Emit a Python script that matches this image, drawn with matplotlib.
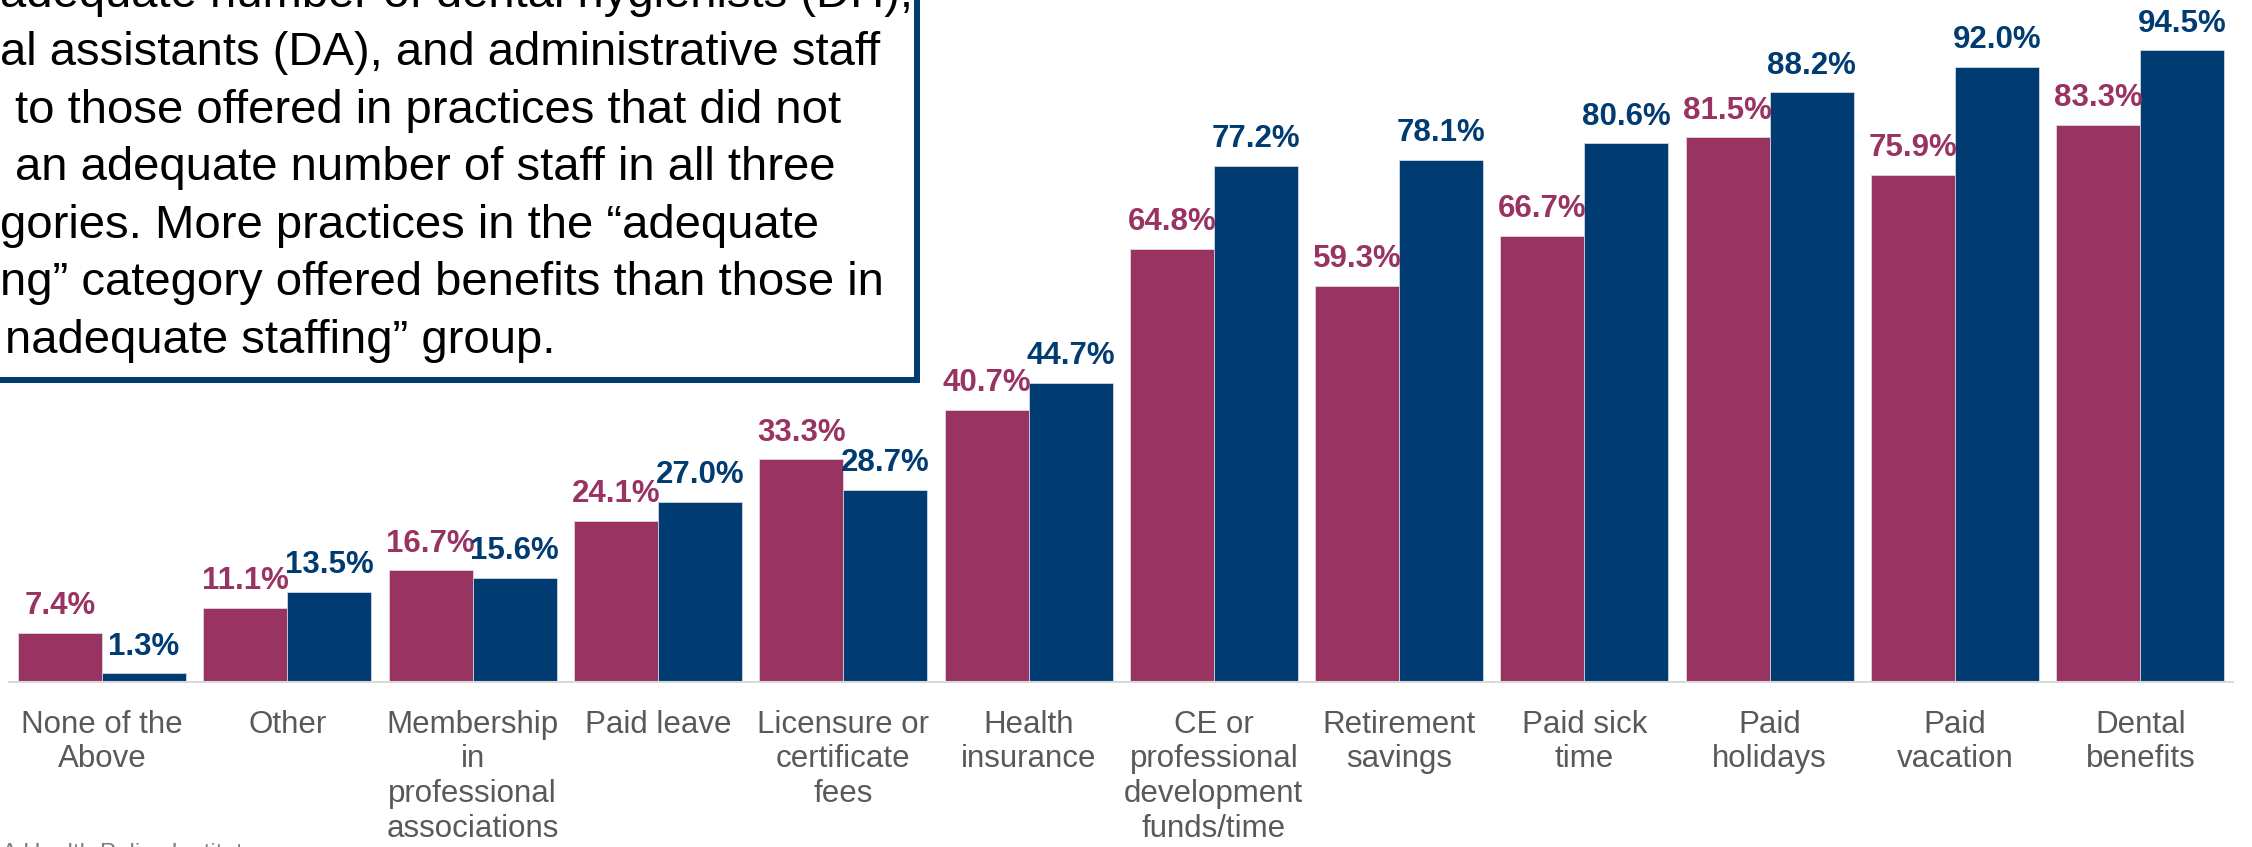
import numpy as np
import matplotlib
matplotlib.use('Agg')
import matplotlib.pyplot as plt
from matplotlib.patches import Rectangle

plt.rcParams['font.family'] = ['Liberation Sans', 'DejaVu Sans']

# data
categories = ['None of the\nAbove', 'Other', 'Membership\nin\nprofessional\nassociations',
              'Paid leave', 'Licensure or\ncertificate\nfees', 'Health\ninsurance',
              'CE or\nprofessional\ndevelopment\nfunds/time', 'Retirement\nsavings',
              'Paid sick\ntime', 'Paid\nholidays', 'Paid\nvacation', 'Dental\nbenefits']
inadequate = [7.4, 11.1, 16.7, 24.1, 33.3, 40.7, 64.8, 59.3, 66.7, 81.5, 75.9, 83.3]
adequate = [1.3, 13.5, 15.6, 27.0, 28.7, 44.7, 77.2, 78.1, 80.6, 88.2, 92.0, 94.5]

box_lines = [
    'adequate number of dental hygienists (DH),',
    'al assistants (DA), and administrative staff',
    'to those offered in practices that did not',
    'an adequate number of staff in all three',
    'gories. More practices in the \u201cadequate',
    'ng\u201d category offered benefits than those in',
    'nadequate staffing\u201d group.',
]
box_x = [0, 0, 15, 15, 0, 0, 5]
source = 'ADA Health Policy Institute'

pink = '#983362'
navy = '#003b71'

W, H = 2252, 847
fig = plt.figure(figsize=(W / 100, H / 100), dpi=100)
ax = fig.add_axes([9.4 / W, (H - 682) / H, 2223.6 / W, 668.4 / H])

x = np.arange(len(categories))
bw = 0.4535
ax.bar(x - bw / 2, inadequate, bw, color=pink, edgecolor='#dfe3ea', linewidth=0.5)
ax.bar(x + bw / 2, adequate, bw, color=navy, edgecolor='#dfe3ea', linewidth=0.5)
ax.set_xlim(-0.5, 11.5)
ax.set_ylim(0, 100)

for s in ['top', 'left', 'right']:
    ax.spines[s].set_visible(False)
ax.spines['bottom'].set_color('#d9d9d9')
ax.spines['bottom'].set_linewidth(1.5)
ax.set_yticks([])
ax.set_xticks(x, categories, fontsize=22.5, color='#595959', linespacing=1.2)
ax.tick_params(axis='x', length=0, pad=20)

for xi, v in zip(x, inadequate):
    ax.annotate(f'{v:.1f}%', (xi - bw / 2, v), xytext=(0, 13.5), textcoords='offset points',
                ha='center', va='baseline', fontsize=22.5, fontweight='bold', color=pink)
for xi, v in zip(x, adequate):
    ax.annotate(f'{v:.1f}%', (xi + bw / 2, v), xytext=(0, 13.5), textcoords='offset points',
                ha='center', va='baseline', fontsize=22.5, fontweight='bold', color=navy)

# text box (cut off at top / left)
box = Rectangle((-0.05, (H - 380) / H), 916.5 / W + 0.05, 1.0, transform=fig.transFigure,
                facecolor='white', edgecolor=navy, linewidth=4.3, zorder=10)
fig.add_artist(box)
for i, (s, xp) in enumerate(zip(box_lines, box_x)):
    base = 7.4 + 57.6 * i
    fig.text(xp / W, (H - base) / H, s, fontsize=34, ha='left', va='baseline',
             color='black', zorder=11)

fig.text(-32 / W, (H - 860) / H, source, fontsize=17.5, color='#7f7f7f',
         ha='left', va='baseline')

fig.savefig('out.png', dpi=100)
